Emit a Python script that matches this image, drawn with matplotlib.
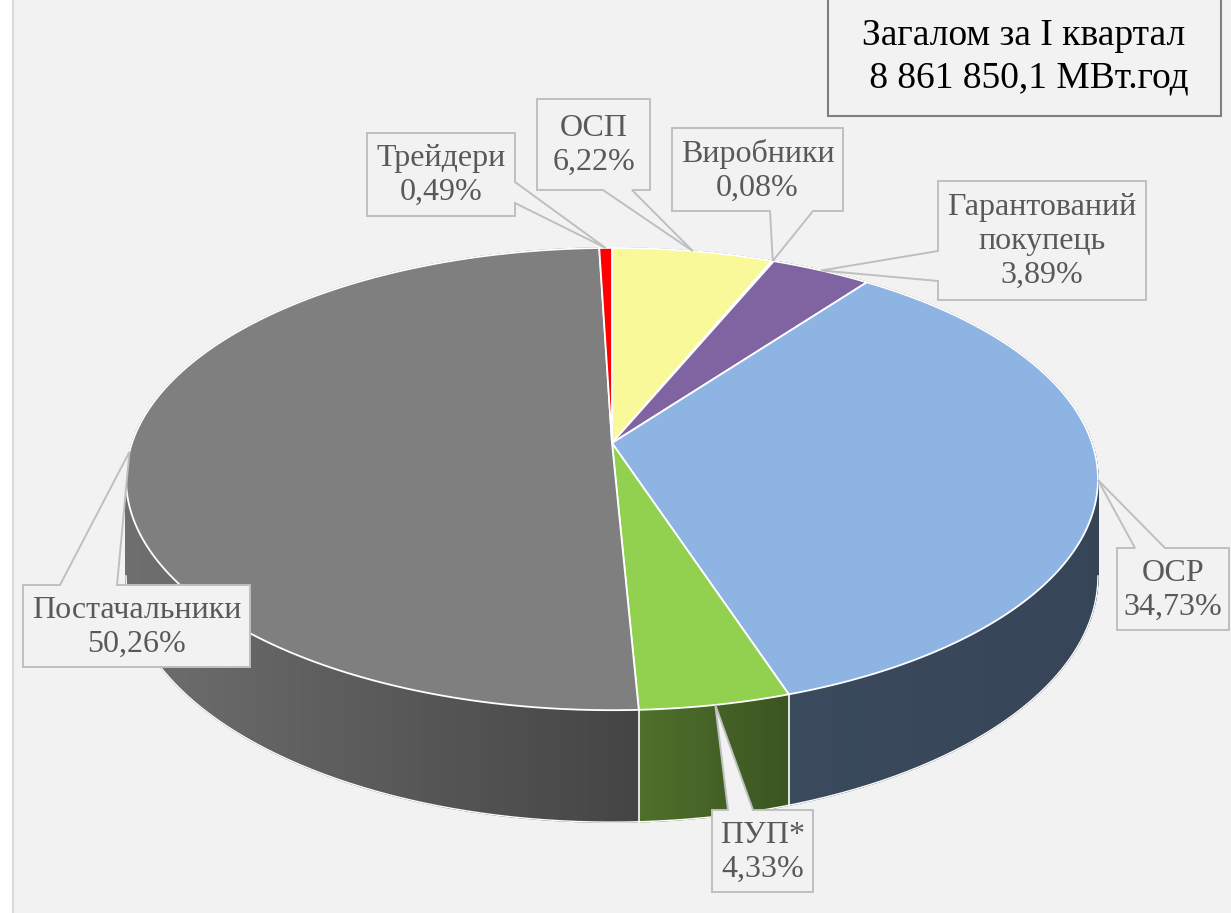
import numpy as np
import matplotlib.pyplot as plt
from matplotlib.patches import Polygon, Rectangle
from matplotlib.collections import PolyCollection
from matplotlib.colors import to_rgb

# --- data ---
labels = ['ОСП', 'Виробники', 'Гарантований\nпокупець', 'ОСР', 'ПУП*',
          'Постачальники', 'Трейдери']
shares = [6.22, 0.08, 3.89, 34.73, 4.33, 50.26, 0.49]
colors = ['#FAF99A', '#8064A2', '#8064A2', '#8EB4E3', '#92D050', '#7F7F7F', '#FF0000']
title_lines = ['Загалом за I квартал', ' 8 861 850,1 МВт.год']

# --- layout (pixels) ---
# callout box: x0, y0, x1, y1, side of tail, tail start, tail end
boxes = [
    (537, 99, 650, 190, 'bottom', 603, 632),
    (672, 128, 843, 211, 'bottom', 770, 813),
    (938, 181, 1146, 300, 'left', 251, 281),
    (1117, 548, 1229, 630, 'top', 1135, 1165),
    (712, 810, 813, 892, 'top', 728, 753),
    (23, 585, 250, 667, 'top', 60, 117),
    (367, 133, 515, 216, 'right', 182, 203),
]
CX, CY = 612, 443
RX, RY = 480, 225.5
K = 0.156      # perspective
H = 94.5       # thickness

W, HGT = 1231, 913
fig = plt.figure(figsize=(W / 100, HGT / 100), dpi=100, facecolor='white')
ax = fig.add_axes([0, 0, 1, 1])
ax.set_xlim(0, W)
ax.set_ylim(HGT, 0)
ax.axis('off')

ax.add_patch(Rectangle((12.5, -10), W + 20, HGT + 20, facecolor='#F2F2F2',
                       edgecolor='#D9D9D9', lw=1.5))


def proj(t, depth=0.0):
    u, v = np.sin(t), np.cos(t)
    w = 1 + K * v
    return CX + RX * u / w, CY - RY * v / w + depth * H / w


def shade(x):
    return np.interp(x, [130, 637, 785, 1100], [0.87, 0.54, 0.41, 0.38])


fracs = np.array(shares) / sum(shares)
edges = np.concatenate([[0], np.cumsum(fracs)]) * 2 * np.pi

# walls, painted back to front
quads = []
for i in range(len(shares)):
    a0, a1 = edges[i], edges[i + 1]
    n = max(2, int(np.degrees(a1 - a0) / 0.5))
    ts = np.linspace(a0, a1, n + 1)
    base = np.array(to_rgb(colors[i]))
    for t0, t1 in zip(ts[:-1], ts[1:]):
        p0, p1 = proj(t0), proj(t1)
        q1, q0 = proj(t1, 1), proj(t0, 1)
        xm = (p0[0] + p1[0]) / 2
        c = np.clip(base * shade(xm), 0, 1)
        quads.append((np.cos((t0 + t1) / 2), [p0, p1, q1, q0], c))
quads.sort(key=lambda q: -q[0])
wall = PolyCollection([q[1] for q in quads], facecolors=[q[2] for q in quads],
                      edgecolors=[q[2] for q in quads], linewidths=1.0)
ax.add_collection(wall)

# white outline on the visible wall
ts = np.linspace(np.arccos(-K), 2 * np.pi - np.arccos(-K), 300)
bx, by = proj(ts, 1)
ax.plot(bx, by, color='white', lw=1.0)
for i, e in enumerate(edges[1:-1]):
    if np.cos(e) < -0.05:
        (x0, y0), (x1, y1) = proj(e), proj(e, 1)
        ax.plot([x0, x1], [y0, y1], color='white', lw=1.2)

# top faces
for i in range(len(shares)):
    ts = np.linspace(edges[i], edges[i + 1], max(2, int(np.degrees(edges[i + 1] - edges[i]))) + 1)
    xs, ys = proj(ts)
    pts = [(CX, CY)] + list(zip(xs, ys))
    ax.add_patch(Polygon(pts, closed=True, facecolor=colors[i], edgecolor='white',
                         lw=1.3, joinstyle='miter'))

# callouts
for i, (x0, y0, x1, y1, side, a, b) in enumerate(boxes):
    tip = proj((edges[i] + edges[i + 1]) / 2)
    if side == 'top':
        pts = [(x0, y0), (a, y0), tip, (b, y0), (x1, y0), (x1, y1), (x0, y1)]
    elif side == 'bottom':
        pts = [(x0, y0), (x1, y0), (x1, y1), (b, y1), tip, (a, y1), (x0, y1)]
    elif side == 'left':
        pts = [(x0, y0), (x1, y0), (x1, y1), (x0, y1), (x0, b), tip, (x0, a)]
    else:
        pts = [(x0, y0), (x1, y0), (x1, a), tip, (x1, b), (x1, y1), (x0, y1)]
    ax.add_patch(Polygon(pts, closed=True, facecolor='#F2F2F2', edgecolor='#BFBFBF',
                         lw=1.4, zorder=5))
    txt = f"{labels[i]}\n{shares[i]:.2f}%".replace('.', ',')
    ax.text((x0 + x1) / 2, (y0 + y1) / 2 + 1, txt, ha='center', va='center',
            fontsize=23, family='Liberation Serif', color='#595959',
            linespacing=1.22, zorder=6)

# title box
ax.add_patch(Rectangle((828, -10), 393, 126, facecolor='#F2F2F2', edgecolor='#7F7F7F',
                       lw=1.5, zorder=5))
ax.text(1024, 57, '\n'.join(title_lines), ha='center', va='center', fontsize=27,
        family='Liberation Serif', color='black', linespacing=1.28, zorder=6)

fig.savefig('out.png', dpi=100)
